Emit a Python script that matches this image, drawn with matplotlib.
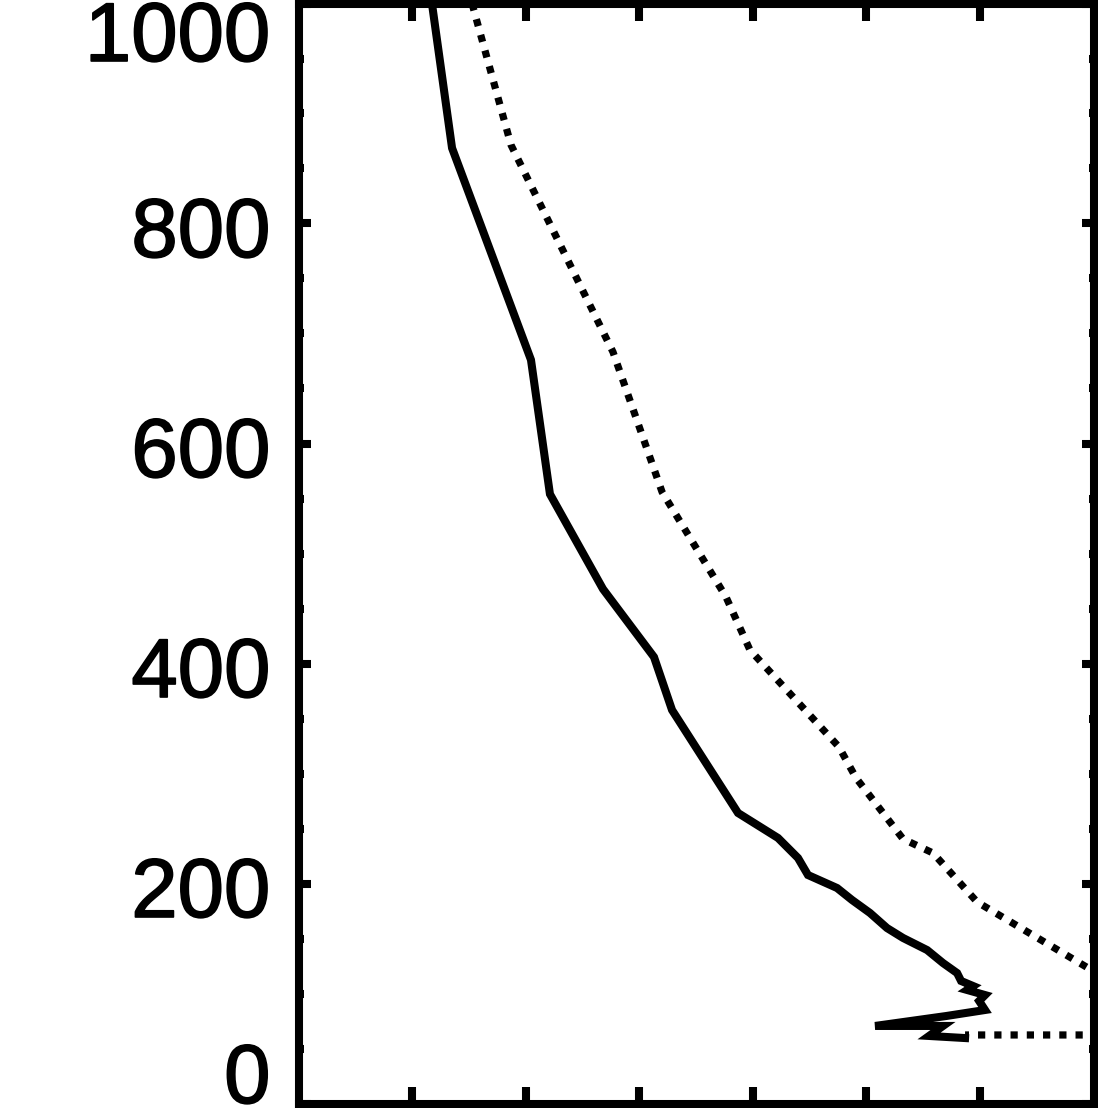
import matplotlib
matplotlib.use("Agg")
import matplotlib.pyplot as plt
import matplotlib.transforms as mtransforms
import matplotlib.patheffects as pe
from matplotlib.ticker import MultipleLocator

# solid profile (x in tick units, y = height)
solid_x = [1.175, 1.352, 2.047, 2.214, 2.681, 3.130, 3.289, 3.870, 4.222, 4.398,
           4.486, 4.742, 4.874, 5.032, 5.182, 5.323, 5.535, 5.675, 5.799, 5.834,
           5.940, 5.887, 6.045, 5.993, 6.045, 5.701, 5.077, 5.675, 5.552, 5.869]
solid_y = [1000, 868.6, 676, 554, 467.7, 405.9, 357.7, 264.1, 241.4, 223.2,
           207.7, 195.9, 185.0, 173.2, 159.5, 150.5, 139.5, 127.7, 118.6, 111.4,
           106.8, 103.2, 98.6, 93.2, 85.0, 79.5, 70.5, 70.5, 61.4, 59.5]

# dotted profile
dot_x = [1.528, 1.871, 2.769, 3.201, 3.764, 3.975, 4.759, 4.909, 5.323, 5.587,
         5.975, 6.952, 7.43, 8.5, 5.869]
dot_y = [1000, 871.4, 683.2, 556.0, 460.5, 412.3, 324.1, 296.0, 240.5, 227.7,
         183.2, 123.2, 94, 62.3, 62.3]

y_ticks = [0, 200, 400, 600, 800, 1000]
x_ticks = [1, 2, 3, 4, 5, 6]
# vertical nudge of each label in pixels (positive = down), ends kept inside the frame
label_shift = [-31, 3, 3, 3, 3, 27]

W, H = 1098, 1108
fig = plt.figure(figsize=(W / 100, H / 100), dpi=100)
ax = fig.add_axes([298.5 / W, (H - 1103.5) / H, 795 / W, 1100 / H])

lw = 5.8
ax.plot(solid_x, solid_y, color="black", lw=lw, solid_joinstyle="miter")
ax.plot(dot_x, dot_y, color="black", lw=5.2, linestyle=(0, (1.0, 1.25)),
        dash_capstyle="butt")

ax.set_xlim(0, 7)
ax.set_ylim(0, 1000)
ax.set_xticks(x_ticks)
ax.set_xticklabels([])
ax.set_yticks(y_ticks)
ax.set_yticklabels([])
ax.yaxis.set_minor_locator(MultipleLocator(50))

for s in ax.spines.values():
    s.set_linewidth(lw)

ax.tick_params(axis="x", which="major", direction="in", top=True, bottom=True,
               length=12.5, width=lw)
ax.tick_params(axis="y", which="major", direction="in", left=True, right=True,
               length=8.6, width=lw)
ax.tick_params(axis="y", which="minor", direction="in", left=True, right=True,
               length=3.6, width=lw)

for v, dy in zip(y_ticks, label_shift):
    tr = ax.get_yaxis_transform() + mtransforms.ScaledTranslation(-28 / 100, -dy / 100, fig.dpi_scale_trans)
    ax.text(0, v, str(v), transform=tr, ha="right", va="center_baseline",
            fontsize=60, fontfamily="Liberation Sans", clip_on=False,
            path_effects=[pe.withStroke(linewidth=1.2, foreground="black")])

fig.savefig("out.png", dpi=100)
